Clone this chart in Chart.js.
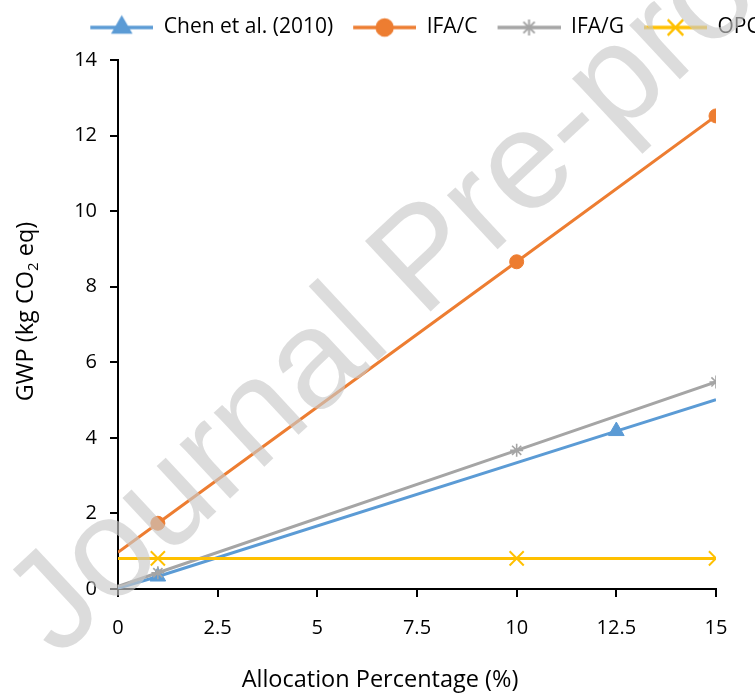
<!DOCTYPE html>
<html><head><meta charset="utf-8">
<script src="https://cdn.jsdelivr.net/npm/chart.js@4.4.1/dist/chart.umd.min.js"></script>
<style>
html,body{margin:0;padding:0;overflow:hidden;background:#fff;width:755px;height:697px}
#wrap{position:absolute;left:0;top:0;width:843px;height:697px}
</style>
</head><body><div id="wrap"><canvas id="c" width="843" height="697"></canvas></div>
<script>
// ---- data ----
const seriesNames = ['Chen et al. (2010)', 'IFA/C', 'IFA/G', 'OPC'];
const chenX = [0, 1, 12.5, 15];
const chenY = [0.02, 0.33, 4.18, 5.01];
const chenMarker = [0, 1, 1, 0];
const ifaX = [0, 1, 10, 15];
const ifaCY = [0.97, 1.74, 8.66, 12.52];
const ifaGY = [0.07, 0.43, 3.67, 5.48];
const opcX = [0, 1, 10, 15];
const opcY = [0.81, 0.81, 0.81, 0.81];
const ifaMarker = [0, 1, 1, 1];
const xTicks = [0, 2.5, 5, 7.5, 10, 12.5, 15];
const yTicks = [0, 2, 4, 6, 8, 10, 12, 14];
const xTitle = 'Allocation Percentage (%)';
const yTitleParts = ['GWP (kg CO', '2', ' eq)'];
const watermark = 'Journal Pre-proof';

// ---- styles ----
const FONT = "'Open Sans'";
const colors = ['#5B9BD5', '#ED7D31', '#A5A5A5', '#FFC000'];
const styles = ['triangle', 'circle', 'star', 'crossRot'];
const sizes = [9, 7, 6.5, 10];
const borderW = [1, 1, 1.6, 2];
const legendSizes = [11, 8.5, 8, 11];

function drawMarker(g, style, r, x, y) {
  g.beginPath();
  if (style === 'triangle') {
    g.moveTo(x, y - r);
    g.lineTo(x + r * Math.sin(2 * Math.PI / 3), y - r * Math.cos(2 * Math.PI / 3));
    g.lineTo(x + r * Math.sin(4 * Math.PI / 3), y - r * Math.cos(4 * Math.PI / 3));
    g.closePath(); g.fill(); g.stroke();
  } else if (style === 'circle') {
    g.arc(x, y, r, 0, Math.PI * 2); g.fill(); g.stroke();
  } else if (style === 'star') {
    g.moveTo(x - r, y); g.lineTo(x + r, y);
    g.moveTo(x, y - r); g.lineTo(x, y + r);
    const d = r * Math.SQRT1_2;
    g.moveTo(x - d, y - d); g.lineTo(x + d, y + d);
    g.moveTo(x - d, y + d); g.lineTo(x + d, y - d);
    g.stroke();
  } else {
    const d = r * Math.SQRT1_2;
    g.moveTo(x - d, y - d); g.lineTo(x + d, y + d);
    g.moveTo(x - d, y + d); g.lineTo(x + d, y - d);
    g.stroke();
  }
}
function legendIcon(i) {
  const c = document.createElement('canvas');
  c.width = 70; c.height = 28;
  const g = c.getContext('2d');
  g.strokeStyle = colors[i]; g.fillStyle = colors[i];
  g.lineWidth = 3.5;
  g.beginPath(); g.moveTo(7, 14); g.lineTo(70, 14); g.stroke();
  g.lineWidth = borderW[i] + 0.4;
  drawMarker(g, styles[i], legendSizes[i], 38.5, 14);
  return c;
}
const icons = [0, 1, 2, 3].map(legendIcon);

function mk(i, xs, ys, marks, order) {
  return {
    label: seriesNames[i],
    data: xs.map((x, k) => ({ x: x, y: ys[k] })),
    borderColor: colors[i], backgroundColor: colors[i], borderWidth: 3,
    pointStyle: styles[i],
    pointRadius: marks.map(m => m * sizes[i]),
    pointHoverRadius: marks.map(m => m * sizes[i]),
    pointBackgroundColor: colors[i], pointBorderColor: colors[i],
    pointBorderWidth: borderW[i],
    tension: 0, fill: false, order: order
  };
}

const decor = {
  id: 'decor',
  afterDraw(chart) {
    const ctx = chart.ctx, a = chart.chartArea;
    ctx.save();
    ctx.fillStyle = '#000';
    const big = "23.5px " + FONT, small = "15px " + FONT;
    ctx.font = big; ctx.textAlign = 'center'; ctx.textBaseline = 'alphabetic';
    ctx.fillText(xTitle, a.left + 262, a.bottom + 98);
    ctx.translate(a.left - 85, (a.top + a.bottom) / 2 - 13);
    ctx.rotate(-Math.PI / 2);
    ctx.textAlign = 'left';
    ctx.font = big;
    const w0 = ctx.measureText(yTitleParts[0]).width, w2 = ctx.measureText(yTitleParts[2]).width;
    ctx.font = small;
    const w1 = ctx.measureText(yTitleParts[1]).width;
    let x = -(w0 + w1 + w2) / 2;
    ctx.font = big; ctx.fillText(yTitleParts[0], x, 0); x += w0;
    ctx.font = small; ctx.fillText(yTitleParts[1], x, 5); x += w1;
    ctx.font = big; ctx.fillText(yTitleParts[2], x, 0);
    ctx.restore();
    // watermark
    ctx.save();
    ctx.translate(58, 659);
    ctx.rotate(-43 * Math.PI / 180);
    ctx.font = "140px 'Liberation Sans'";
    ctx.fillStyle = 'rgba(200,200,200,0.64)';
    ctx.textAlign = 'left'; ctx.textBaseline = 'alphabetic';
    ctx.fillText(watermark, 0, 0);
    ctx.restore();
  }
};

Chart.defaults.font.family = FONT;
Chart.defaults.color = '#000';

new Chart(document.getElementById('c'), {
  type: 'line',
  data: {
    datasets: [
      mk(0, chenX, chenY, chenMarker, 4),
      mk(1, ifaX, ifaCY, ifaMarker, 3),
      mk(2, ifaX, ifaGY, ifaMarker, 2),
      mk(3, opcX, opcY, ifaMarker, 1)
    ]
  },
  options: {
    responsive: false,
    animation: false,
    events: [],
    layout: { padding: { top: 4, left: 0, right: 0, bottom: 0 } },
    plugins: {
      tooltip: { enabled: false },
      legend: {
        position: 'top',
        labels: {
          usePointStyle: true,
          pointStyleWidth: 70,
          padding: 13,
          color: '#000',
          font: { size: 21, family: FONT },
          sort: (a, b) => a.datasetIndex - b.datasetIndex,
          generateLabels(chart) {
            const items = Chart.defaults.plugins.legend.labels.generateLabels(chart);
            items.forEach(it => { it.pointStyle = icons[it.datasetIndex]; });
            return items;
          }
        }
      }
    },
    scales: {
      x: {
        type: 'linear', position: 'bottom', min: 0, max: 15,
        afterBuildTicks: s => { s.ticks = xTicks.map(v => ({ value: v })); },
        afterFit: s => { s.height = 108; },
        ticks: { font: { size: 20, family: FONT }, color: '#000', padding: 19, maxRotation: 0 },
        grid: { display: true, drawOnChartArea: false, drawTicks: true, tickLength: 8, tickWidth: 2, tickColor: '#000', color: '#000', lineWidth: 2 },
        border: { display: true, color: '#000', width: 2 }
      },
      y: {
        type: 'linear', position: 'left', min: 0, max: 14,
        afterBuildTicks: s => { s.ticks = yTicks.map(v => ({ value: v })); },
        afterFit: s => { s.width = 118; },
        ticks: { font: { size: 20, family: FONT }, color: '#000', padding: 13 },
        grid: { display: true, drawOnChartArea: false, drawTicks: true, tickLength: 8, tickWidth: 2, tickColor: '#000', color: '#000', lineWidth: 2 },
        border: { display: true, color: '#000', width: 2 }
      },
      padRight: {
        type: 'linear', position: 'right', display: true,
        afterFit: s => { s.width = 127; },
        ticks: { display: false },
        grid: { display: false },
        border: { display: false }
      },
      padTop: {
        type: 'linear', position: 'top', display: true,
        afterFit: s => { s.height = 12; },
        ticks: { display: false },
        grid: { display: false },
        border: { display: false }
      }
    }
  },
  plugins: [decor]
});
</script>
</body></html>
